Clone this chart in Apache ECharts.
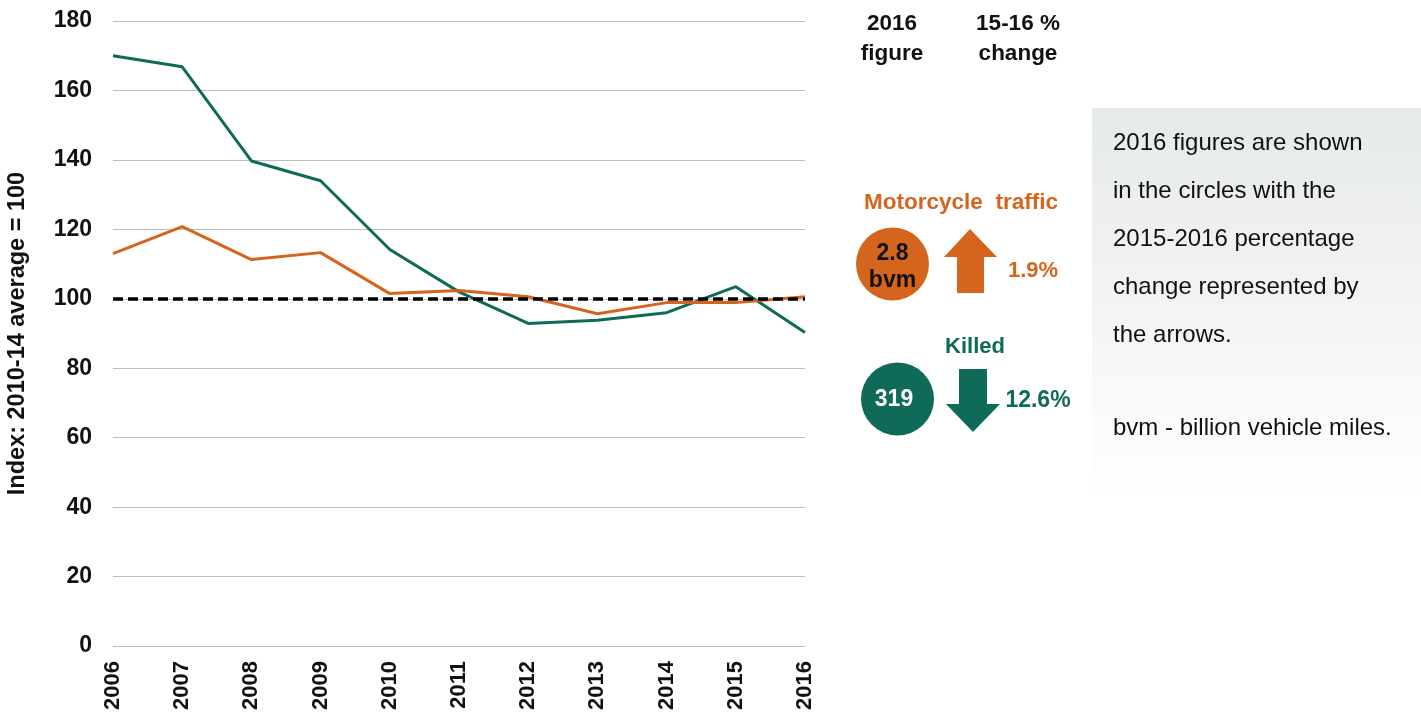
<!DOCTYPE html>
<html>
<head>
<meta charset="utf-8">
<script src="https://cdn.jsdelivr.net/npm/echarts@6/dist/echarts.min.js"></script>
<style>
  html, body { margin: 0; padding: 0; background: #fff; }
  #chart { width: 1421px; height: 713px; }
</style>
</head>
<body>
<div id="chart"></div>
<script>
// years on the x axis
const years = ['2006', '2007', '2008', '2009', '2010', '2011', '2012', '2013', '2014', '2015', '2016']
// index values, 2010-14 average = 100
const killed = [170, 166.8, 139.7, 134, 114.2, 102, 92.9, 93.8, 96, 103.5, 90.3]
const traffic = [113, 120.8, 111.3, 113.3, 101.5, 102.4, 100.6, 95.7, 98.9, 98.9, 100.6]
const baseline = 100
// 2016 figures and 15-16 change
const trafficFigure = ['2.8', 'bvm']
const trafficChange = '1.9%'
const killedFigure = '319'
const killedChange = '12.6%'
const notes = ['2016 figures are shown', 'in the circles with the', '2015-2016 percentage', 'change represented by', 'the arrows.', '', 'bvm - billion vehicle miles.']

const green = '#0f6b57'
const orange = '#d5651d'
const font = '"Liberation Sans", Arial, sans-serif'

let chart = echarts.init(document.getElementById('chart'))

const noteText = []
notes.forEach(function (t, i) {
    if (!t) return
    noteText.push({
        type: 'text',
        x: 1113,
        y: i < 5 ? 143 + i * 48 : 428,
        style: { text: t, fill: '#111', font: '24px ' + font, verticalAlign: 'middle' }
    })
})

const option = {
    animation: false,
    textStyle: { fontFamily: font },
    grid: { left: 113, right: 616, top: 21, bottom: 66 },
    xAxis: {
        type: 'category',
        data: years,
        boundaryGap: false,
        axisLine: { show: false },
        axisTick: { show: false },
        axisLabel: {
            rotate: 90,
            margin: 15,
            color: '#111',
            fontSize: 22,
            fontWeight: 'bold',
            fontFamily: font
        }
    },
    yAxis: {
        type: 'value',
        min: 0,
        max: 180,
        interval: 20,
        name: 'Index: 2010-14 average = 100',
        nameLocation: 'middle',
        nameRotate: 90,
        nameGap: 83,
        nameTextStyle: { color: '#111', fontSize: 23.5, fontWeight: 'bold', fontFamily: font },
        axisLine: { show: false },
        axisTick: { show: false },
        axisLabel: {
            margin: 21,
            color: '#111',
            fontSize: 23,
            fontWeight: 'bold',
            fontFamily: font
        },
        splitLine: { lineStyle: { color: '#bdbdbd', width: 1 } }
    },
    series: [
        {
            name: 'Motorcycle traffic',
            type: 'line',
            data: traffic,
            symbol: 'none',
            lineStyle: { color: orange, width: 3 },
            z: 3,
            markLine: {
                silent: true,
                symbol: 'none',
                label: { show: false },
                lineStyle: { color: '#000', width: 3.5, type: [10, 5] },
                data: [{ yAxis: baseline }]
            }
        },
        {
            name: 'Killed',
            type: 'line',
            data: killed,
            symbol: 'none',
            lineStyle: { color: green, width: 3 },
            z: 2
        }
    ],
    graphic: [
        // column headers
        { type: 'text', x: 892, y: 39, style: { text: '2016\nfigure', fill: '#111', font: 'bold 22.5px ' + font, align: 'center', verticalAlign: 'middle', lineHeight: 30 } },
        { type: 'text', x: 1018, y: 39, style: { text: '15-16 %\nchange', fill: '#111', font: 'bold 22.5px ' + font, align: 'center', verticalAlign: 'middle', lineHeight: 30 } },
        // motorcycle traffic
        { type: 'text', x: 961, y: 203, style: { text: 'Motorcycle  traffic', fill: orange, font: 'bold 22.5px ' + font, align: 'center', verticalAlign: 'middle' } },
        { type: 'circle', shape: { cx: 892.5, cy: 264, r: 36.5 }, style: { fill: orange } },
        { type: 'text', x: 892.5, y: 267, style: { text: trafficFigure.join('\n'), fill: '#111', font: 'bold 23px ' + font, align: 'center', verticalAlign: 'middle', lineHeight: 27 } },
        { type: 'polygon', shape: { points: [[970, 229], [997, 257], [984, 257], [984, 293], [957, 293], [957, 257], [944, 257]] }, style: { fill: orange } },
        { type: 'text', x: 1033, y: 271, style: { text: trafficChange, fill: orange, font: 'bold 22px ' + font, align: 'center', verticalAlign: 'middle' } },
        // killed
        { type: 'text', x: 975, y: 347, style: { text: 'Killed', fill: green, font: 'bold 22px ' + font, align: 'center', verticalAlign: 'middle' } },
        { type: 'circle', shape: { cx: 897.5, cy: 399, r: 36.5 }, style: { fill: green } },
        { type: 'text', x: 894, y: 400, style: { text: killedFigure, fill: '#fff', font: 'bold 23px ' + font, align: 'center', verticalAlign: 'middle' } },
        { type: 'polygon', shape: { points: [[959, 369], [987, 369], [987, 404], [1000, 404], [973, 432], [946, 404], [959, 404]] }, style: { fill: green } },
        { type: 'text', x: 1038, y: 401, style: { text: killedChange, fill: green, font: 'bold 23px ' + font, align: 'center', verticalAlign: 'middle' } },
        // note box
        {
            type: 'rect',
            shape: { x: 1092, y: 108, width: 329, height: 392 },
            style: {
                fill: new echarts.graphic.LinearGradient(0, 0, 0, 1, [
                    { offset: 0, color: '#e6e9ea' },
                    { offset: 1, color: '#ffffff' }
                ])
            },
            z: -1
        }
    ].concat(noteText)
}

chart.setOption(option)
</script>
</body>
</html>
